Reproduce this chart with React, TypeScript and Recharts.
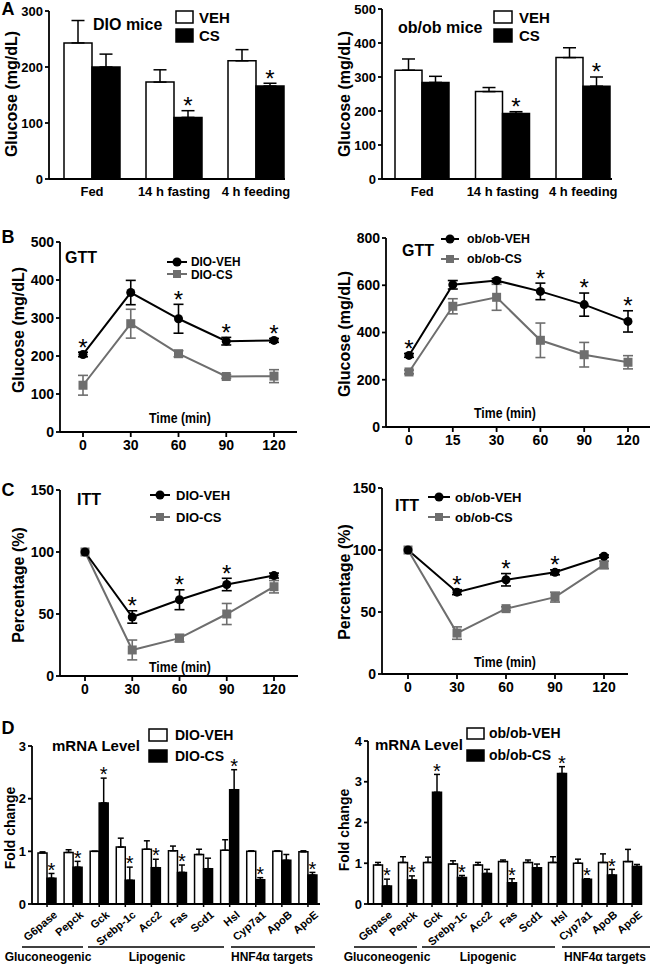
import React from 'react'
import { Bar, BarChart, ErrorBar, Line, LineChart, XAxis, YAxis } from 'recharts'

const FONT = '"Liberation Sans", Arial, Helvetica, sans-serif'
const GREY = '#6e6e6e'

// Panel A: glucose after fed / fasting / refeeding
const mealCats = ['Fed', '14 h fasting', '4 h feeding']
const dioMealVeh = [243, 173, 211]
const dioMealVehErr = [40, 22, 20]
const dioMealCs = [200, 110, 166]
const dioMealCsErr = [23, 12, 5]
const dioMealStar = [false, true, true]
const obMealVeh = [320, 257, 357]
const obMealVehErr = [33, 12, 29]
const obMealCs = [284, 193, 273]
const obMealCsErr = [18, 5, 27]
const obMealStar = [false, true, true]

// Panel B: glucose tolerance test
const gttDioTimes = ['0', '30', '60', '90', '120']
const gttDioVeh = [204, 367, 298, 239, 241]
const gttDioVehErr = [6, 32, 38, 10, 5]
const gttDioCs = [123, 285, 206, 146, 147]
const gttDioCsErr = [26, 38, 8, 5, 17]
const gttDioStar = [true, false, true, true, true]
const gttObTimes = ['0', '15', '30', '60', '90', '120']
const gttObVeh = [303, 602, 620, 574, 518, 447]
const gttObVehErr = [8, 18, 8, 35, 49, 45]
const gttObCs = [233, 511, 549, 367, 306, 274]
const gttObCsErr = [8, 32, 55, 73, 52, 28]
const gttObStar = [true, false, false, true, true, true]

// Panel C: insulin tolerance test
const ittTimes = ['0', '30', '60', '90', '120']
const ittDioVeh = [100, 47.6, 61.5, 73.8, 81]
const ittDioVehErr = [0, 5, 8, 5, 2]
const ittDioCs = [100, 21, 30.5, 50, 72]
const ittDioCsErr = [0, 8, 3, 8.5, 5]
const ittDioStar = [false, true, true, true, false]
const ittObVeh = [100, 66, 76, 82, 95]
const ittObVehErr = [0, 2, 5, 2, 1]
const ittObCs = [100, 33, 52.7, 62, 88]
const ittObCsErr = [0, 5, 1.5, 4, 3]
const ittObStar = [false, true, true, true, false]

// Panel D: hepatic mRNA levels
const genes = ['G6pase', 'Pepck', 'Gck', 'Srebp-1c', 'Acc2', 'Fas', 'Scd1', 'Hsl', 'Cyp7a1', 'ApoB', 'ApoE']
const mrnaDioVeh = [0.97, 0.98, 1.0, 1.08, 1.04, 1.01, 0.94, 1.02, 1.0, 1.0, 0.99]
const mrnaDioVehErr = [0.02, 0.05, 0, 0.17, 0.16, 0.09, 0.1, 0.2, 0.01, 0.01, 0.02]
const mrnaDioCs = [0.49, 0.7, 1.92, 0.45, 0.69, 0.6, 0.67, 2.17, 0.46, 0.83, 0.55]
const mrnaDioCsErr = [0.09, 0.11, 0.47, 0.25, 0.16, 0.14, 0.2, 0.38, 0.04, 0.11, 0.05]
const mrnaDioStar = [true, true, true, true, true, true, false, true, true, false, true]
const mrnaObVeh = [0.96, 1.02, 1.02, 0.98, 0.96, 1.04, 1.02, 1.02, 1.0, 1.02, 1.04]
const mrnaObVehErr = [0.06, 0.14, 0.13, 0.08, 0.06, 0.04, 0.06, 0.14, 0.1, 0.21, 0.3]
const mrnaObCs = [0.44, 0.59, 2.74, 0.65, 0.75, 0.52, 0.89, 3.2, 0.61, 0.71, 0.92]
const mrnaObCsErr = [0.17, 0.1, 0.44, 0.05, 0.1, 0.1, 0.09, 0.17, 0.01, 0.14, 0.05]
const mrnaObStar = [true, true, true, true, false, true, false, true, true, true, false]

// each chart is positioned so that its plot box lands on these page coords
type Box = { x0: number; x1: number; y0: number; y1: number }

const YW = 52
const PAD_TOP = 24
const PAD_RIGHT = 14
const XH = 64

function frame(b: Box) {
	return {
		style: { position: 'absolute' as const, left: b.x0 - YW, top: b.y0 - PAD_TOP },
		width: b.x1 - b.x0 + YW + PAD_RIGHT,
		height: b.y1 - b.y0 + PAD_TOP + XH,
		margin: { top: PAD_TOP, right: PAD_RIGHT, bottom: 0, left: 0 }
	}
}

const axisLine = { stroke: '#000', strokeWidth: 1.8 }

function Star({ cx, cy, fs }: { cx: number; cy: number; fs: number }) {
	return (
		<text x={cx} y={cy + fs * 0.56} textAnchor="middle" fontSize={fs} fontFamily={FONT} fill="#000">
			*
		</text>
	)
}

function barStar(stars: boolean[], errs: number[], fs: number, gap: number) {
	return (p: any) => {
		const i = p.index
		if (!stars[i] || !p.value) return null
		const k = p.height / p.value
		const top = p.y - errs[i] * k
		return <Star key={`bs${i}`} cx={p.x + p.width / 2} cy={top - gap} fs={fs} />
	}
}

function GeneTick(props: any) {
	const { x, y, payload } = props
	return (
		<text
			transform={`translate(${x + 11},${y + 7}) rotate(-40)`}
			textAnchor="end"
			fontSize={11}
			fontWeight={700}
			fontFamily={FONT}
			fill="#000"
		>
			{payload.value}
		</text>
	)
}

type BarPanelProps = {
	box: Box
	cats: string[]
	veh: number[]
	vehErr: number[]
	cs: number[]
	csErr: number[]
	stars: boolean[]
	max: number
	ticks: number[]
	barSize: number
	cap: number
	padL: number
	padR: number
	tickFs: number
	starFs: number
	starGap: number
	genes?: boolean
}

function BarPanel(p: BarPanelProps) {
	const f = frame(p.box)
	const rows = p.cats.map((c, i) => ({
		cat: c,
		veh: p.veh[i],
		vehErr: [0, p.vehErr[i]],
		cs: p.cs[i],
		csErr: [0, p.csErr[i]]
	}))
	const tickStyle = { fill: '#000', fontSize: p.tickFs, fontWeight: 700, fontFamily: FONT }
	return (
		<div style={f.style}>
			<BarChart width={f.width} height={f.height} data={rows} margin={f.margin} barGap={0}>
				<XAxis
					dataKey="cat"
					height={XH}
					axisLine={axisLine}
					tickLine={p.genes ? { stroke: '#000', strokeWidth: 1.5 } : false}
					tickSize={p.genes ? 3 : 6}
					tickMargin={2}
					interval={0}
					padding={{ left: p.padL, right: p.padR }}
					tick={p.genes ? <GeneTick /> : tickStyle}
				/>
				<YAxis
					width={YW}
					domain={[0, p.max]}
					ticks={p.ticks}
					interval={0}
					axisLine={axisLine}
					tickLine={{ stroke: '#000', strokeWidth: 1.8 }}
					tickSize={4}
					tickMargin={2}
					tick={tickStyle}
				/>
				<Bar dataKey="veh" fill="#fff" stroke="#000" strokeWidth={1.5} barSize={p.barSize} isAnimationActive={false}>
					<ErrorBar dataKey="vehErr" width={p.cap} stroke="#000" strokeWidth={1.5} />
				</Bar>
				<Bar
					dataKey="cs"
					fill="#000"
					stroke="#000"
					strokeWidth={1.5}
					barSize={p.barSize}
					isAnimationActive={false}
					label={barStar(p.stars, p.csErr, p.starFs, p.starGap)}
				>
					<ErrorBar dataKey="csErr" width={p.cap} stroke="#000" strokeWidth={1.5} />
				</Bar>
			</BarChart>
		</div>
	)
}

type LinePanelProps = {
	box: Box
	times: string[]
	veh: number[]
	vehErr: number[]
	cs: number[]
	csErr: number[]
	stars: boolean[]
	max: number
	ticks: number[]
	padL: number
	padR: number
}

const squareDot = (props: any) => {
	const { cx, cy, index } = props
	if (cx == null || cy == null) return <g key={`sq${index}`} />
	return <rect key={`sq${index}`} x={cx - 4.5} y={cy - 4.5} width={9} height={9} fill={GREY} />
}

function LinePanel(p: LinePanelProps) {
	const f = frame(p.box)
	const rows = p.times.map((t, i) => ({
		t,
		veh: p.veh[i],
		vehErr: p.vehErr[i],
		cs: p.cs[i],
		csErr: p.csErr[i],
		star: p.stars[i] ? p.veh[i] + p.vehErr[i] : null
	}))
	const tickStyle = { fill: '#000', fontSize: 14, fontWeight: 700, fontFamily: FONT }
	return (
		<div style={f.style}>
			<LineChart width={f.width} height={f.height} data={rows} margin={f.margin}>
				<XAxis
					dataKey="t"
					height={XH}
					axisLine={axisLine}
					tickLine={{ stroke: '#000', strokeWidth: 1.8 }}
					tickSize={5}
					tickMargin={3}
					interval={0}
					padding={{ left: p.padL, right: p.padR }}
					tick={tickStyle}
				/>
				<YAxis
					width={YW}
					domain={[0, p.max]}
					ticks={p.ticks}
					interval={0}
					axisLine={axisLine}
					tickLine={{ stroke: '#000', strokeWidth: 1.8 }}
					tickSize={4}
					tickMargin={2}
					tick={tickStyle}
				/>
				<Line
					dataKey="cs"
					stroke={GREY}
					strokeWidth={2}
					dot={squareDot}
					activeDot={false}
					isAnimationActive={false}
				>
					<ErrorBar dataKey="csErr" width={5} stroke={GREY} strokeWidth={1.6} direction="y" />
				</Line>
				<Line
					dataKey="veh"
					stroke="#000"
					strokeWidth={2}
					dot={{ r: 4.5, fill: '#000', stroke: '#000', strokeWidth: 0 }}
					activeDot={false}
					isAnimationActive={false}
				>
					<ErrorBar dataKey="vehErr" width={5} stroke="#000" strokeWidth={1.6} direction="y" />
				</Line>
				<Line
					dataKey="star"
					stroke="none"
					dot={false}
					activeDot={false}
					legendType="none"
					isAnimationActive={false}
					label={(lp: any) =>
						lp.value == null ? null : <Star key={`ls${lp.index}`} cx={lp.x} cy={lp.y - 10} fs={24} />
					}
				/>
			</LineChart>
		</div>
	)
}

function T({ x, y, s, children, anchor = 'start', sx = 1 }: any) {
	return (
		<text
			transform={`translate(${x},${y}) scale(${sx},1)`}
			fontSize={s}
			textAnchor={anchor}
			dominantBaseline="central"
		>
			{children}
		</text>
	)
}

function VLabel({ x, y, s, children }: any) {
	return (
		<text transform={`translate(${x},${y}) rotate(-90)`} fontSize={s} textAnchor="middle" dominantBaseline="central">
			{children}
		</text>
	)
}

function BoxKey({ x, y, w, h, fill }: any) {
	return <rect x={x} y={y} width={w} height={h} fill={fill} stroke="#000" strokeWidth={1.5} />
}

function LineKey({ x1, x2, y, grey }: any) {
	const cx = (x1 + x2) / 2
	return (
		<g>
			<line x1={x1} x2={x2} y1={y} y2={y} stroke={grey ? GREY : '#000'} strokeWidth={2} />
			{grey ? (
				<rect x={cx - 4} y={y - 4} width={8} height={8} fill={GREY} />
			) : (
				<circle cx={cx} cy={y} r={4.5} fill="#000" />
			)}
		</g>
	)
}

function Bracket({ x1, x2, cx, label }: any) {
	return (
		<g>
			<line x1={x1} x2={x2} y1={947} y2={947} stroke="#000" strokeWidth={1.5} />
			<T x={cx} y={957} s={12} anchor="middle">
				{label}
			</T>
		</g>
	)
}

function Annotations() {
	return (
		<svg
			width={650}
			height={964}
			style={{ position: 'absolute', left: 0, top: 0, pointerEvents: 'none' }}
			fontFamily={FONT}
			fontWeight={700}
			fill="#000"
		>
			<T x={8} y={9} s={18} anchor="middle">A</T>
			<T x={8} y={237} s={18} anchor="middle">B</T>
			<T x={8} y={490} s={18} anchor="middle">C</T>
			<T x={8} y={728} s={18} anchor="middle">D</T>

			<VLabel x={11} y={94} s={16}>Glucose (mg/dL)</VLabel>
			<VLabel x={344} y={94} s={16}>Glucose (mg/dL)</VLabel>
			<VLabel x={18} y={330} s={16}>Glucose (mg/dL)</VLabel>
			<VLabel x={344} y={334} s={16}>Glucose (mg/dL)</VLabel>
			<VLabel x={18} y={585} s={16}>Percentage (%)</VLabel>
			<VLabel x={344} y={582} s={16}>Percentage (%)</VLabel>
			<VLabel x={10} y={828} s={14}>Fold change</VLabel>
			<VLabel x={344} y={830} s={14}>Fold change</VLabel>

			<T x={93} y={24} s={16}>DIO mice</T>
			<BoxKey x={176} y={11} w={17} h={12} fill="#fff" />
			<BoxKey x={176} y={29} w={17} h={13} fill="#000" />
			<T x={199} y={17} s={15}>VEH</T>
			<T x={199} y={35} s={15}>CS</T>

			<T x={398} y={27} s={16}>ob/ob mice</T>
			<BoxKey x={494} y={11} w={18} h={12} fill="#fff" />
			<BoxKey x={494} y={29} w={18} h={13} fill="#000" />
			<T x={519} y={17} s={15}>VEH</T>
			<T x={519} y={35} s={15}>CS</T>

			<T x={65} y={257} s={16}>GTT</T>
			<LineKey x1={167} x2={187} y={262} />
			<LineKey x1={167} x2={187} y={274} grey />
			<T x={191} y={262} s={12.5} sx={0.95}>DIO-VEH</T>
			<T x={191} y={275} s={12.5} sx={0.95}>DIO-CS</T>
			<T x={180} y={418} s={15} sx={0.82} anchor="middle">Time (min)</T>

			<T x={402} y={250} s={16}>GTT</T>
			<LineKey x1={441} x2={459} y={239} />
			<LineKey x1={441} x2={459} y={259} grey />
			<T x={467} y={239} s={13} sx={0.95}>ob/ob-VEH</T>
			<T x={467} y={259} s={13} sx={0.95}>ob/ob-CS</T>
			<T x={505} y={413} s={15} sx={0.82} anchor="middle">Time (min)</T>

			<T x={77} y={499} s={16}>ITT</T>
			<LineKey x1={150} x2={170} y={495} />
			<LineKey x1={150} x2={170} y={517} grey />
			<T x={176} y={495} s={13}>DIO-VEH</T>
			<T x={176} y={517} s={13}>DIO-CS</T>
			<T x={180} y={667} s={15} sx={0.82} anchor="middle">Time (min)</T>

			<T x={395} y={505} s={16}>ITT</T>
			<LineKey x1={428} x2={450} y={497} />
			<LineKey x1={428} x2={450} y={517} grey />
			<T x={455} y={497} s={13}>ob/ob-VEH</T>
			<T x={455} y={517} s={13}>ob/ob-CS</T>
			<T x={505} y={662} s={15} sx={0.82} anchor="middle">Time (min)</T>

			<T x={52} y={745} s={15}>mRNA Level</T>
			<BoxKey x={149} y={729} w={18} h={12} fill="#fff" />
			<BoxKey x={149} y={750} w={18} h={12} fill="#000" />
			<T x={175} y={735} s={14}>DIO-VEH</T>
			<T x={175} y={756} s={14}>DIO-CS</T>

			<T x={375} y={744} s={15}>mRNA Level</T>
			<BoxKey x={467} y={728} w={17} h={11} fill="#fff" />
			<BoxKey x={467} y={750} w={17} h={11} fill="#000" />
			<T x={489} y={733} s={14}>ob/ob-VEH</T>
			<T x={489} y={755} s={14}>ob/ob-CS</T>

			<Bracket x1={22} x2={83} cx={48} label="Gluconeogenic" />
			<Bracket x1={88} x2={224} cx={157} label="Lipogenic" />
			<Bracket x1={231} x2={315} cx={272} label="HNF4α targets" />
			<Bracket x1={354} x2={417} cx={387} label="Gluconeogenic" />
			<Bracket x1={422} x2={555} cx={488} label="Lipogenic" />
			<Bracket x1={562} x2={650} cx={605} label="HNF4α targets" />
		</svg>
	)
}

export default function App() {
	return (
		<div
			style={{
				position: 'absolute',
				left: 0,
				top: 0,
				width: 650,
				height: 964,
				overflow: 'hidden',
				background: '#fff',
				fontFamily: FONT
			}}
		>
			<BarPanel
				box={{ x0: 49, x1: 285, y0: 11, y1: 179 }}
				cats={mealCats}
				veh={dioMealVeh}
				vehErr={dioMealVehErr}
				cs={dioMealCs}
				csErr={dioMealCsErr}
				stars={dioMealStar}
				max={300}
				ticks={[0, 100, 200, 300]}
				barSize={28}
				cap={6.5}
				padL={2}
				padR={-12}
				tickFs={13}
				starFs={24}
				starGap={10}
			/>
			<BarPanel
				box={{ x0: 382, x1: 612, y0: 9, y1: 179 }}
				cats={mealCats}
				veh={obMealVeh}
				vehErr={obMealVehErr}
				cs={obMealCs}
				csErr={obMealCsErr}
				stars={obMealStar}
				max={500}
				ticks={[0, 100, 200, 300, 400, 500]}
				barSize={27}
				cap={6.5}
				padL={0}
				padR={-11.5}
				tickFs={13}
				starFs={24}
				starGap={10}
			/>
			<LinePanel
				box={{ x0: 60, x1: 297, y0: 242, y1: 432 }}
				times={gttDioTimes}
				veh={gttDioVeh}
				vehErr={gttDioVehErr}
				cs={gttDioCs}
				csErr={gttDioCsErr}
				stars={gttDioStar}
				max={500}
				ticks={[0, 100, 200, 300, 400, 500]}
				padL={23}
				padR={23}
			/>
			<LinePanel
				box={{ x0: 386, x1: 650, y0: 238, y1: 427 }}
				times={gttObTimes}
				veh={gttObVeh}
				vehErr={gttObVehErr}
				cs={gttObCs}
				csErr={gttObCsErr}
				stars={gttObStar}
				max={800}
				ticks={[0, 200, 400, 600, 800]}
				padL={23}
				padR={22}
			/>
			<LinePanel
				box={{ x0: 60, x1: 298, y0: 490, y1: 676 }}
				times={ittTimes}
				veh={ittDioVeh}
				vehErr={ittDioVehErr}
				cs={ittDioCs}
				csErr={ittDioCsErr}
				stars={ittDioStar}
				max={150}
				ticks={[0, 50, 100, 150]}
				padL={25}
				padR={24}
			/>
			<LinePanel
				box={{ x0: 382, x1: 628, y0: 488, y1: 674 }}
				times={ittTimes}
				veh={ittObVeh}
				vehErr={ittObVehErr}
				cs={ittObCs}
				csErr={ittObCsErr}
				stars={ittObStar}
				max={150}
				ticks={[0, 50, 100, 150]}
				padL={26}
				padR={24}
			/>
			<BarPanel
				box={{ x0: 32, x1: 320, y0: 746, y1: 904 }}
				cats={genes}
				veh={mrnaDioVeh}
				vehErr={mrnaDioVehErr}
				cs={mrnaDioCs}
				csErr={mrnaDioCsErr}
				stars={mrnaDioStar}
				max={3}
				ticks={[0, 1, 2, 3]}
				barSize={9}
				cap={3}
				padL={2}
				padR={-1}
				tickFs={13}
				starFs={20}
				starGap={8}
				genes
			/>
			<BarPanel
				box={{ x0: 368, x1: 642, y0: 741, y1: 904 }}
				cats={genes}
				veh={mrnaObVeh}
				vehErr={mrnaObVehErr}
				cs={mrnaObCs}
				csErr={mrnaObCsErr}
				stars={mrnaObStar}
				max={4}
				ticks={[0, 1, 2, 3, 4]}
				barSize={9}
				cap={3}
				padL={1.5}
				padR={-2.5}
				tickFs={13}
				starFs={20}
				starGap={8}
				genes
			/>
			<Annotations />
		</div>
	)
}
